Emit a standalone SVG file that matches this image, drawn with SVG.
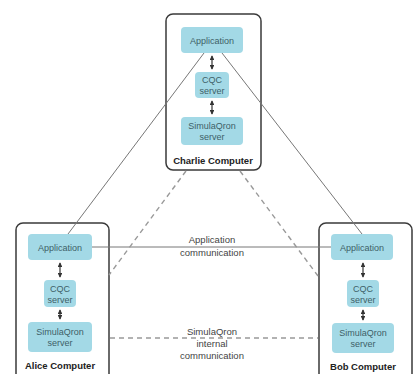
<svg xmlns="http://www.w3.org/2000/svg" width="413" height="374" viewBox="0 0 413 374">
<defs>
<style>
.frame{fill:#fff;stroke:#3a3a3a;stroke-width:1.5}
.box{fill:#a3d9e6;stroke:none}
.t{font-family:"Liberation Sans",Arial,sans-serif;font-size:9px;fill:#3e5f67;text-anchor:middle}
.lbl{font-family:"Liberation Sans",Arial,sans-serif;font-size:9.5px;font-weight:bold;fill:#222;text-anchor:middle}
.cl{font-family:"Liberation Sans",Arial,sans-serif;font-size:9.5px;fill:#444;text-anchor:middle}
.solid{stroke:#777;stroke-width:1;fill:none}
.dash{stroke:#999;stroke-width:1.4;fill:none;stroke-dasharray:5 4}
.arr{stroke:#333;stroke-width:1.2;fill:none;marker-start:url(#ah);marker-end:url(#ah)}
</style>
<marker id="ah" viewBox="0 0 6 6" refX="5" refY="3" markerWidth="4" markerHeight="4" orient="auto-start-reverse">
<path d="M0,0 L6,3 L0,6 z" fill="#333"/>
</marker>
</defs>
<rect width="413" height="374" fill="#fff"/>

<g id="charlie">
<rect class="frame" x="166" y="14" width="95" height="156" rx="7"/>
<rect class="box" x="181" y="27" width="62" height="26" rx="4"/>
<text class="t" x="212" y="43.5">Application</text>
<rect class="box" x="195" y="72" width="34" height="26" rx="4"/>
<text class="t" x="212" y="83">CQC</text>
<text class="t" x="212" y="94">server</text>
<rect class="box" x="181" y="117" width="62" height="28" rx="4"/>
<text class="t" x="212" y="129">SimulaQron</text>
<text class="t" x="212" y="140">server</text>
<text class="lbl" x="213" y="164">Charlie Computer</text>
</g>

<g id="alice">
<rect class="frame" x="16" y="223" width="93" height="165" rx="7"/>
<rect class="box" x="28" y="234" width="64" height="26" rx="4"/>
<text class="t" x="60" y="250.5">Application</text>
<rect class="box" x="44" y="280" width="32" height="27" rx="4"/>
<text class="t" x="60" y="291.5">CQC</text>
<text class="t" x="60" y="302.5">server</text>
<rect class="box" x="28" y="322" width="64" height="30" rx="4"/>
<text class="t" x="60" y="335">SimulaQron</text>
<text class="t" x="60" y="346">server</text>
<text class="lbl" x="60" y="369">Alice Computer</text>
</g>

<g id="bob">
<rect class="frame" x="319" y="223" width="93" height="165" rx="7"/>
<rect class="box" x="331" y="234" width="62" height="26" rx="4"/>
<text class="t" x="362" y="250.5">Application</text>
<rect class="box" x="347" y="280" width="32" height="27" rx="4"/>
<text class="t" x="363" y="291.5">CQC</text>
<text class="t" x="363" y="302.5">server</text>
<rect class="box" x="332" y="323" width="62" height="30" rx="4"/>
<text class="t" x="363" y="336">SimulaQron</text>
<text class="t" x="363" y="347">server</text>
<text class="lbl" x="363" y="370">Bob Computer</text>
</g>

<g id="connectors">
<line class="arr" x1="212" y1="56" x2="212" y2="69"/>
<line class="arr" x1="212" y1="101" x2="212" y2="114"/>
<line class="arr" x1="60" y1="263" x2="60" y2="277"/>
<line class="arr" x1="60" y1="310" x2="60" y2="319"/>
<line class="arr" x1="363" y1="263" x2="363" y2="277"/>
<line class="arr" x1="363" y1="310" x2="363" y2="320"/>
<line class="solid" x1="68" y1="234" x2="204" y2="53"/>
<line class="solid" x1="222" y1="53" x2="362" y2="234"/>
<line class="solid" x1="92" y1="247" x2="331" y2="247"/>
<line class="dash" x1="186" y1="171" x2="109" y2="275"/>
<line class="dash" x1="240" y1="171" x2="318" y2="276"/>
<line class="dash" x1="110" y1="338" x2="318" y2="338"/>
<text class="cl" x="212" y="243">Application</text>
<text class="cl" x="212" y="256">communication</text>
<text class="cl" x="212" y="335">SimulaQron</text>
<text class="cl" x="212" y="347">internal</text>
<text class="cl" x="212" y="359">communication</text>
</g>
</svg>
